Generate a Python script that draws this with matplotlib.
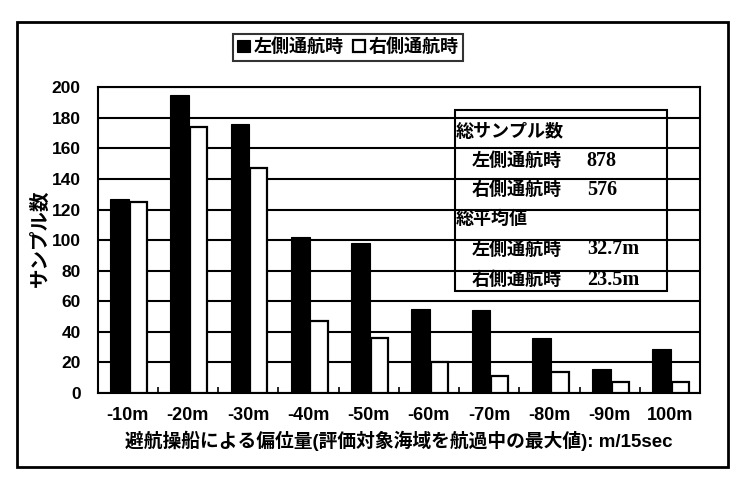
import matplotlib
matplotlib.use("Agg")
import matplotlib.pyplot as plt
import numpy as np
from matplotlib.patches import Rectangle

plt.rcParams['font.family'] = ['Liberation Sans', 'Noto Sans CJK JP']
plt.rcParams['font.weight'] = 'bold'

# data
categories = ['-10m', '-20m', '-30m', '-40m', '-50m', '-60m', '-70m', '-80m', '-90m', '100m']
left_pass = [127, 195, 176, 102, 98, 55, 54, 36, 16, 29]
right_pass = [125, 174, 147, 47, 36, 20, 11, 14, 7, 7]
series_names = ['左側通航時', '右側通航時']

# summary table
table_rows = [
    ('総サンプル数', None, None),
    ('左側通航時', '878', 'sub'),
    ('右側通航時', '576', 'sub'),
    ('総平均値', None, None),
    ('左側通航時', '32.7m', 'sub'),
    ('右側通航時', '23.5m', 'sub'),
]

fig = plt.figure(figsize=(7.37, 4.86), dpi=100)
ax = fig.add_axes([97.5/737, 1-393/486, (700-97.5)/737, (393-87.3)/486])

x = np.arange(len(categories))
w = 0.31
b1 = ax.bar(x - w/2 + 0.02, left_pass, w, color='black', edgecolor='black', linewidth=0.8, zorder=3,
            label=series_names[0])
b2 = ax.bar(x + w/2 + 0.02, right_pass, w*0.92, color='white', edgecolor='black', linewidth=1.6, zorder=3,
            label=series_names[1])

ax.set_xlim(-0.5, len(categories) - 0.5)
ax.set_ylim(0, 200)
ax.set_yticks(range(0, 201, 20))
ax.yaxis.grid(True, color='black', linewidth=1.5, zorder=0)
ax.set_axisbelow(True)
for s in ax.spines.values():
    s.set_linewidth(1.5)

ax.set_xticks(x)
ax.set_xticklabels(categories, fontsize=13, fontweight='bold')
ax.set_xticks(np.arange(-0.5, len(categories)), minor=True)
ax.tick_params(axis='x', which='major', length=0, pad=10)
ax.tick_params(axis='x', which='minor', direction='in', length=4, width=1.2)
ax.tick_params(axis='y', length=0, pad=12, labelsize=12.5)
for t in ax.get_yticklabels():
    t.set_fontweight('bold')

ax.set_xlabel('避航操船による偏位量(評価対象海域を航過中の最大値): m/15sec',
              fontsize=13.5, fontweight='bold', labelpad=5)
fig.text(40/737, 1-238/486, 'サンプル数', rotation=90, ha='center', va='center',
         fontsize=14, fontweight='bold')

# summary box drawn on top of the grid
tx0, tx1 = 5.43, 8.95
ty0, ty1 = 66.7, 185
ax.add_patch(Rectangle((tx0, ty0), tx1 - tx0, ty1 - ty0, fill=False,
                       edgecolor='black', linewidth=1.5, zorder=4))
row_y = [171, 152, 133, 114, 94, 74]
for (label, val, kind), yy in zip(table_rows, row_y):
    lx = tx0 + 0.02 if kind is None else 5.715
    ax.text(lx, yy, label, ha='left', va='center', fontsize=13, fontweight='bold',
            family=['Noto Sans CJK JP'], zorder=5)
    if val is not None:
        ax.text(7.62, yy, val, ha='left', va='center', fontsize=14.5, fontweight='bold',
                family=['Liberation Serif'], zorder=5)

leg = ax.legend(handles=[b1, b2], loc='center', bbox_to_anchor=(348/737, 1-47.5/486),
                bbox_transform=fig.transFigure, ncol=2, fontsize=13, frameon=True,
                fancybox=False, handlelength=0.7, handleheight=0.7, handletextpad=0.2,
                columnspacing=0.5, borderpad=0.25, borderaxespad=0)
leg.get_frame().set_edgecolor('black')
leg.get_frame().set_linewidth(1.5)
for t in leg.get_texts():
    t.set_fontweight('bold')

fig.patches.append(Rectangle((17/737, 1-467/486), (727.5-17)/737, (467-22)/486,
                             transform=fig.transFigure, fill=False, edgecolor='black',
                             linewidth=2))

fig.savefig('out.png', dpi=100)
